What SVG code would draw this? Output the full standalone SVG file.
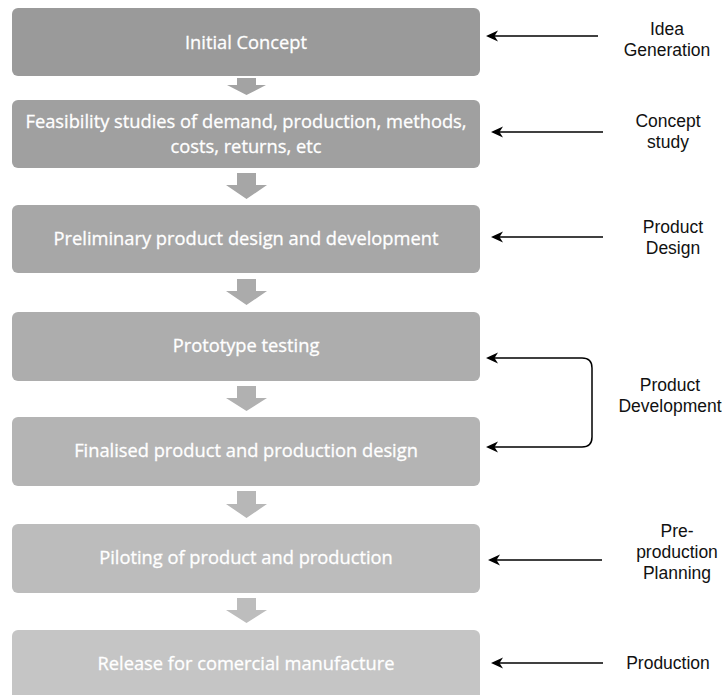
<svg xmlns="http://www.w3.org/2000/svg" width="722" height="695" viewBox="0 0 722 695">
  <defs>
    <style>
      .step { stroke: none; }
      .step-text { font-family: "Open Sans", Lato, "Noto Sans", sans-serif; font-size: 18.3px; fill: #ffffff; stroke: #ffffff; stroke-width: 0.3; text-anchor: middle; dominant-baseline: central; }
      .phase-text { font-family: "Liberation Sans", Arial, sans-serif; font-size: 17.5px; fill: #111111; text-anchor: middle; dominant-baseline: central; }
      .link { fill: none; stroke: #000000; stroke-width: 1.5; }
    </style>
    <marker id="head" viewBox="0 0 12 12" refX="10" refY="6" markerWidth="12" markerHeight="12" markerUnits="userSpaceOnUse" orient="auto-start-reverse">
      <path d="M0 0.5 L12 6 L0 11.5 L3.5 6 Z" fill="#000000"/>
    </marker>
  </defs>

  <!-- process steps -->
  <g id="step-initial-concept">
    <rect class="step" x="12" y="8" width="468" height="68" rx="6" fill="#9a9a9a"/>
    <text class="step-text" x="246" y="41">Initial Concept</text>
  </g>
  <g id="step-feasibility">
    <rect class="step" x="12" y="100" width="468" height="68" rx="6" fill="#a0a0a0"/>
    <text class="step-text" x="246" y="120">Feasibility studies of demand, production, methods,</text>
    <text class="step-text" x="246" y="145">costs, returns, etc</text>
  </g>
  <g id="step-preliminary-design">
    <rect class="step" x="12" y="205" width="468" height="68" rx="6" fill="#a7a7a7"/>
    <text class="step-text" x="246" y="237">Preliminary product design and development</text>
  </g>
  <g id="step-prototype">
    <rect class="step" x="12" y="312" width="468" height="69" rx="6" fill="#adadad"/>
    <text class="step-text" x="246" y="344">Prototype testing</text>
  </g>
  <g id="step-finalised-design">
    <rect class="step" x="12" y="417" width="468" height="69" rx="6" fill="#b4b4b4"/>
    <text class="step-text" x="246" y="449">Finalised product and production design</text>
  </g>
  <g id="step-piloting">
    <rect class="step" x="12" y="524" width="468" height="69" rx="6" fill="#bcbcbc"/>
    <text class="step-text" x="246" y="556">Piloting of product and production</text>
  </g>
  <g id="step-release">
    <rect class="step" x="12" y="630" width="468" height="70" rx="6" fill="#c5c5c5"/>
    <text class="step-text" x="246" y="662">Release for comercial manufacture</text>
  </g>

  <!-- block arrows between steps -->
  <g id="flow-arrows">
    <path d="M237 78 H256 V85 H266 L246.5 95 L227 85 H237 Z" fill="#a3a3a3"/>
    <path d="M237 173 H256 V185 H267 L246.5 199 L226 185 H237 Z" fill="#a6a6a6"/>
    <path d="M237 279 H256 V291 H267 L246.5 305 L226 291 H237 Z" fill="#ababab"/>
    <path d="M237 386 H256 V398 H267 L246.5 411 L226 398 H237 Z" fill="#b1b1b1"/>
    <path d="M237 491 H256 V504 H267 L246.5 518 L226 504 H237 Z" fill="#b7b7b7"/>
    <path d="M237 598 H256 V610 H267 L246.5 623 L226 610 H237 Z" fill="#bdbdbd"/>
  </g>

  <!-- phase connectors -->
  <g id="connectors">
    <line class="link" x1="598" y1="36" x2="488" y2="36" marker-end="url(#head)"/>
    <line class="link" x1="603" y1="132" x2="493" y2="132" marker-end="url(#head)"/>
    <line class="link" x1="603" y1="237" x2="493" y2="237" marker-end="url(#head)"/>
    <path class="link" d="M488 358 H582 Q592 358 592 368 V437 Q592 447 582 447 H488" marker-start="url(#head)" marker-end="url(#head)"/>
    <line class="link" x1="602" y1="560" x2="490" y2="560" marker-end="url(#head)"/>
    <line class="link" x1="603" y1="663" x2="493" y2="663" marker-end="url(#head)"/>
  </g>

  <!-- phase labels -->
  <g id="phase-idea-generation">
    <text class="phase-text" x="667" y="29">Idea</text>
    <text class="phase-text" x="667" y="50">Generation</text>
  </g>
  <g id="phase-concept-study">
    <text class="phase-text" x="668" y="121">Concept</text>
    <text class="phase-text" x="668" y="142">study</text>
  </g>
  <g id="phase-product-design">
    <text class="phase-text" x="673" y="227">Product</text>
    <text class="phase-text" x="673" y="248">Design</text>
  </g>
  <g id="phase-product-development">
    <text class="phase-text" x="670" y="385">Product</text>
    <text class="phase-text" x="670" y="406">Development</text>
  </g>
  <g id="phase-preproduction">
    <text class="phase-text" x="677" y="531">Pre-</text>
    <text class="phase-text" x="677" y="552">production</text>
    <text class="phase-text" x="677" y="573">Planning</text>
  </g>
  <g id="phase-production">
    <text class="phase-text" x="668" y="663">Production</text>
  </g>
</svg>
